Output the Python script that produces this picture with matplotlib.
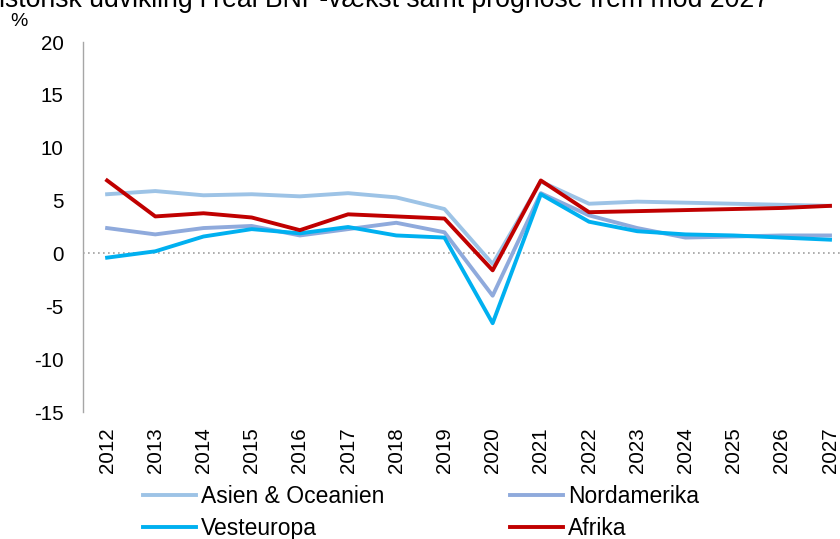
import matplotlib
matplotlib.use("Agg")
import matplotlib.pyplot as plt

plt.rcParams['font.family'] = ['Liberation Sans', 'DejaVu Sans']

years = ["2012", "2013", "2014", "2015", "2016", "2017", "2018", "2019",
         "2020", "2021", "2022", "2023", "2024", "2025", "2026", "2027"]
asien = [5.6, 5.9, 5.5, 5.6, 5.4, 5.7, 5.3, 4.2, -1.0, 6.8, 4.7, 4.9, 4.8, 4.7, 4.6, 4.5]
nordamerika = [2.4, 1.8, 2.4, 2.6, 1.7, 2.3, 2.9, 2.0, -4.0, 5.7, 3.6, 2.4, 1.5, 1.6, 1.7, 1.7]
vesteuropa = [-0.4, 0.2, 1.6, 2.3, 1.9, 2.5, 1.7, 1.5, -6.6, 5.6, 3.0, 2.1, 1.8, 1.7, 1.5, 1.3]
afrika = [6.9, 3.5, 3.8, 3.4, 2.2, 3.7, 3.5, 3.3, -1.6, 6.9, 3.9, 4.0, 4.1, 4.2, 4.3, 4.5]

series = [
    ("Asien & Oceanien", asien, "#9DC3E6"),
    ("Nordamerika", nordamerika, "#8FAADC"),
    ("Vesteuropa", vesteuropa, "#00B0F0"),
    ("Afrika", afrika, "#C00000"),
]

W, H = 840, 539
LEFT, TOP, BOTTOM = 83, 42, 412
fig = plt.figure(figsize=(W / 100, H / 100), dpi=100)
ax = fig.add_axes([LEFT / W, 1 - BOTTOM / H, (W - LEFT) / W, (BOTTOM - TOP) / H])

x = list(range(len(years)))
ax.axhline(0, color="#A0A0A0", linestyle=(0, (1, 2)), linewidth=1.2, zorder=1)
handles = []
for name, vals, col in series:
    h, = ax.plot(x, vals, color=col, linewidth=2.8, label=name, zorder=2)
    handles.append(h)

spacing = (830 - 107) / 15
ax.set_xlim(-0.5, 15 + (W - 830) / spacing)
ax.set_ylim(-15, 20)
ax.set_yticks([-15, -10, -5, 0, 5, 10, 15, 20])
ax.set_yticklabels(["-15", "-10", "-5", "0", "5", "10", "15", "20"])
ax.set_xticks(x)
ax.set_xticklabels(years, rotation=90)
ax.tick_params(axis='both', length=0, labelsize=14.8, colors='black')
ax.tick_params(axis='y', pad=14)
ax.tick_params(axis='x', pad=11)
for s in ["top", "right", "bottom"]:
    ax.spines[s].set_visible(False)
ax.spines["left"].set_color("#A6A6A6")
ax.spines["left"].set_linewidth(1.0)

fig.text(-20 / W, 1 - 7 / H, "Historisk udvikling i real BNP-vækst samt prognose frem mod 2027",
         fontsize=19.2, ha='left', va='baseline')
fig.text(10 / W, 1 - 22 / H, "%", fontsize=14, ha='left', va='center')

order = [handles[0], handles[2], handles[1], handles[3]]
fig.legend(handles=order, labels=[h.get_label() for h in order], ncol=2,
           loc='upper left', bbox_to_anchor=(143 / W, 1 - 485 / H),
           frameon=False, fontsize=16.5, handlelength=2.3, handletextpad=0.22,
           columnspacing=5.5, labelspacing=0.38, borderpad=0, borderaxespad=0)

fig.savefig("out.png", dpi=100)
